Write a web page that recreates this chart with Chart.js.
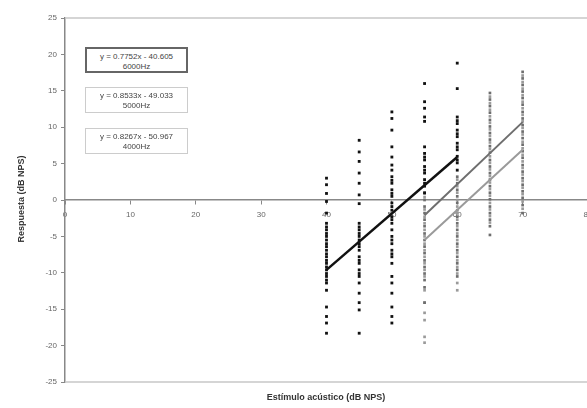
<!DOCTYPE html>
<html>
<head>
<meta charset="utf-8">
<script src="https://cdn.jsdelivr.net/npm/chart.js@4/dist/chart.umd.min.js"></script>
<style>
body{margin:0;overflow:hidden;background:#fff;font-family:"Liberation Sans",Arial,sans-serif;}
#wrap{position:relative;width:600px;height:408px;}
#graph{position:absolute;left:0;top:0;}
.eq{position:absolute;left:85px;width:103px;height:26px;border:1px solid #ccc;background:#fff;font-size:8px;color:#444;line-height:10px;text-align:center;padding-top:3px;box-sizing:border-box;}
.eq.first{border:2px solid #666;}
.ytitle{position:absolute;left:-34px;top:194px;width:110px;text-align:center;font-size:9px;font-weight:bold;color:#333;transform:rotate(-90deg);}
.xtitle{position:absolute;left:226px;top:392px;width:200px;text-align:center;font-size:9px;font-weight:bold;color:#333;}
</style>
</head>
<body>
<div id="wrap">
<canvas id="graph" width="600" height="408"></canvas>
<div class="eq first" style="top:47px"><div id="eq0"></div><div id="fr0"></div></div>
<div class="eq" style="top:87px"><div id="eq1"></div><div id="fr1"></div></div>
<div class="eq" style="top:128px"><div id="eq2"></div><div id="fr2"></div></div>
<div class="ytitle">Respuesta (dB NPS)</div>
<div class="xtitle">Estímulo acústico (dB NPS)</div>
</div>
<script>
// tick labels
const xTicks=[0,10,20,30,40,50,60,70,80];
const yTicks=[-25,-20,-15,-10,-5,0,5,10,15,20,25];

// responses read per stimulus level (dB NPS)
const r6000_40=[3.0,2.1,0.9,-0.2,-1.8,-3.2,-3.7,-4.1,-4.6,-5.0,-5.5,-6.0,-6.4,-6.9,-7.4,-7.8,-8.3,-8.7,-9.2,-9.6,-10.1,-10.5,-11.0,-11.4,-12.4,-14.7,-16.0,-16.9,-18.3];
const r6000_45=[8.2,6.6,5.3,3.7,2.3,0.7,-0.5,-3.2,-3.7,-4.1,-4.6,-5.0,-5.5,-6.0,-6.4,-6.9,-7.8,-8.3,-8.7,-9.6,-10.1,-10.5,-11.4,-12.8,-14.1,-15.1,-18.3];
const r6000_50=[12.1,11.2,9.6,7.3,5.9,4.8,4.1,3.2,2.7,2.3,1.4,0.9,0.5,-0.4,-0.9,-1.4,-2.3,-2.7,-3.2,-4.1,-5.0,-5.5,-6.0,-6.9,-7.4,-7.8,-8.7,-10.5,-11.4,-12.8,-14.7,-16.0,-16.9];
const r6000_55=[16.0,13.5,12.6,11.4,10.8,7.3,6.4,5.9,5.5,4.6,4.1,3.7,2.8,2.3,1.9,1.0];
const r6000_60=[18.8,15.3,11.4,10.9,10.5,9.6,9.1,8.7,7.8,7.3,6.9,6.0,5.5,5.1,4.1];

const r5000_55=[0.9,0.0,-0.9,-1.8,-2.7,-3.6,-4.6,-5.5,-6.4,-7.3,-8.3,-9.2,-10.1,-11.0,-12.0,-14.1];
const r5000_60=[3.2,2.3,1.4,0.5,-0.4,-1.4,-2.3,-3.2,-4.1,-5.0,-6.0,-6.9,-7.8,-8.7,-9.6,-10.5];
const r5000_65=[14.7,13.8,12.9,12.0,11.0,10.1,9.2,8.3,7.4,6.5,5.5,4.6,3.7,2.8,1.9,1.0,0.1,-0.9,-1.8,-2.7,-3.6,-4.8];
const r5000_70=[17.6,16.7,15.8,14.9,14.0,13.1,12.1,11.2,10.3,9.4,8.5,7.6,6.7,5.8,4.8,3.9,3.0,2.1,1.2,0.3,-0.7,-1.8];

const r4000_55=[0.4,-1.3,-2.3,-3.2,-4.1,-5.0,-6.0,-6.9,-7.8,-8.7,-9.6,-10.5,-12.4,-14.1,-15.5,-16.5,-18.8,-19.6];
const r4000_60=[2.8,1.9,1.0,0.0,-0.9,-1.8,-2.7,-3.6,-4.6,-5.5,-6.4,-7.3,-8.3,-9.2,-10.1,-11.4,-12.4];
const r4000_65=[14.2,13.3,12.4,11.5,10.6,9.7,8.8,7.9,7.0,6.0,5.1,4.2,3.3,2.4,1.5,0.6,-0.4,-1.3,-2.2,-3.1];
const r4000_70=[17.1,16.2,15.3,14.4,13.5,12.6,11.7,10.8,9.9,9.0,8.0,7.1,6.2,5.3,4.4,3.5,2.6,1.7,0.8,-0.2,-1.2];

// regression lines (end points) and labels
const freqs=["6000Hz","5000Hz","4000Hz"];
const eqText=["y = 0.7752x - 40.605","y = 0.8533x - 49.033","y = 0.8267x - 50.967"];
const line6000={x:[40,60],y:[-9.6,5.9]};
const line5000={x:[55,70],y:[-2.1,10.7]};
const line4000={x:[55,70],y:[-5.5,6.9]};

const colors=["#111","#6e6e6e","#9a9a9a"];

function pts(x,arr){return arr.map(v=>({x:x,y:v}));}
function seg(l){return l.x.map((x,i)=>({x:x,y:l.y[i]}));}

for(let i=0;i<3;i++){
    document.getElementById('eq'+i).textContent=eqText[i];
    document.getElementById('fr'+i).textContent=freqs[i];
}

const pts6000=[].concat(pts(40,r6000_40),pts(45,r6000_45),pts(50,r6000_50),pts(55,r6000_55),pts(60,r6000_60));
const pts5000=[].concat(pts(55,r5000_55),pts(60,r5000_60),pts(65,r5000_65),pts(70,r5000_70));
const pts4000=[].concat(pts(55,r4000_55),pts(60,r4000_60),pts(65,r4000_65),pts(70,r4000_70));

const framePlugin={
    id:'frame',
    beforeDatasetsDraw(chart){
        const a=chart.chartArea,c=chart.ctx;
        c.save();
        c.strokeStyle='#c8c8c8';
        c.lineWidth=1.5;
        c.beginPath();
        c.moveTo(a.left,a.top);c.lineTo(a.right,a.top);
        c.moveTo(a.left,a.bottom);c.lineTo(a.right,a.bottom);
        c.stroke();
        c.restore();
    }
};

const graph=document.getElementById('graph');
let scatter=new Chart(graph,{
    type:'scatter',
    data:{
        datasets:[
            {label:freqs[2]+' line',type:'line',data:seg(line4000),borderColor:colors[2],borderWidth:2,pointRadius:0,showLine:true,order:1},
            {label:freqs[1]+' line',type:'line',data:seg(line5000),borderColor:colors[1],borderWidth:2,pointRadius:0,showLine:true,order:1},
            {label:freqs[0]+' line',type:'line',data:seg(line6000),borderColor:colors[0],borderWidth:2.5,pointRadius:0,showLine:true,order:0},
            {label:freqs[2],data:pts4000,pointStyle:'rect',pointRadius:1.9,backgroundColor:colors[2],borderWidth:0,order:4},
            {label:freqs[1],data:pts5000,pointStyle:'rect',pointRadius:1.9,backgroundColor:colors[1],borderWidth:0,order:3},
            {label:freqs[0],data:pts6000,pointStyle:'rect',pointRadius:2,backgroundColor:colors[0],borderWidth:0,order:2}
        ]
    },
    options:{
        responsive:false,
        animation:false,
        layout:{padding:{left:0,top:18,right:12,bottom:26}},
        plugins:{legend:{display:false},tooltip:{enabled:false}},
        scales:{
            x:{
                type:'linear',
                position:{y:0},
                min:0,max:80,
                afterBuildTicks:s=>{s.ticks=xTicks.map(v=>({value:v}));},
                grid:{drawOnChartArea:false,tickLength:4,color:'#888'},
                border:{color:'#888',width:1.5},
                ticks:{color:'#666',font:{size:8,family:'Liberation Sans'},padding:6,maxRotation:0}
            },
            y:{
                min:-25,max:25,
                afterBuildTicks:s=>{s.ticks=yTicks.map(v=>({value:v}));},
                afterFit:s=>{s.width=65;},
                grid:{drawOnChartArea:false,tickLength:4,color:'#888'},
                border:{color:'#888',width:1.5},
                ticks:{color:'#666',font:{size:8,family:'Liberation Sans'},padding:4}
            }
        }
    },
    plugins:[framePlugin]
});
</script>
</body>
</html>
